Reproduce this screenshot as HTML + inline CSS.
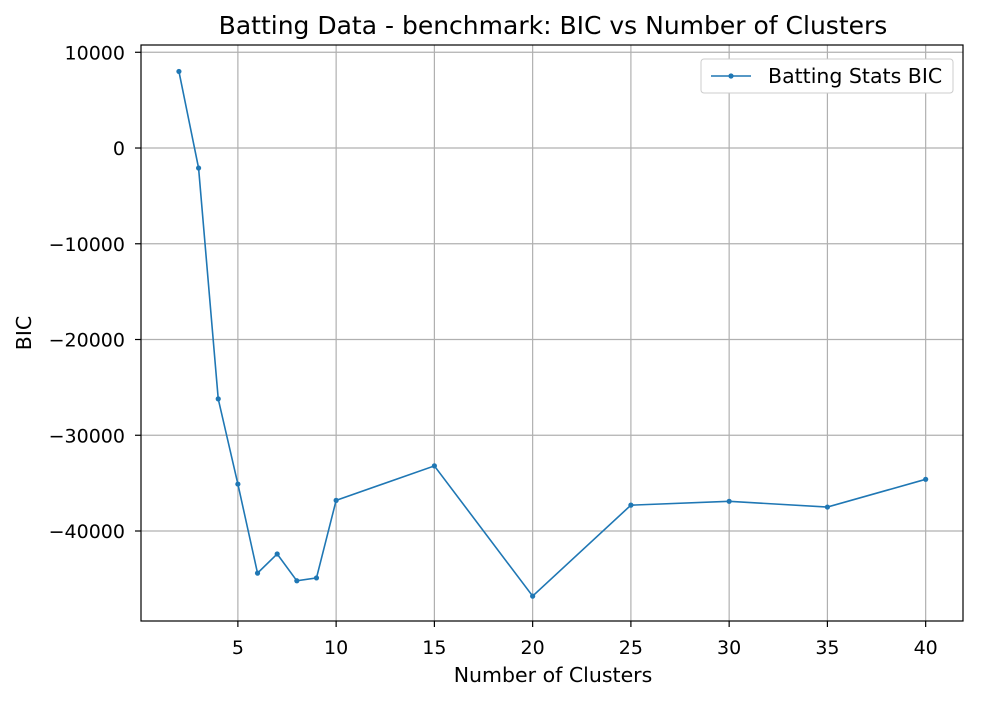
<!DOCTYPE html>
<html><head><meta charset="utf-8"><style>
body{margin:0;background:#fff;font-family:"Liberation Sans","DejaVu Sans",sans-serif;}
text{font-family:"DejaVu Sans","Liberation Sans",sans-serif;}
</style></head><body>
<svg id="chart" width="981" height="700" xmlns="http://www.w3.org/2000/svg"></svg>
<script>
const clusters=[2,3,4,5,6,7,8,9,10,15,20,25,30,35,40];
const bicValues=[8000,-2090,-26200,-35100,-44400,-42400,-45200,-44900,-36800,-33200,-46800,-37300,-36900,-37500,-34600];
const xTicks=[5,10,15,20,25,30,35,40];
const yTicks=[10000,0,-10000,-20000,-30000,-40000];
const L=141,R=963,T=45,B=621;
const xMin=0.07,xMax=41.9,yMin=-49400,yMax=10760;
const sx=v=>L+(v-xMin)/(xMax-xMin)*(R-L);
const sy=v=>B-(v-yMin)/(yMax-yMin)*(B-T);
const svg=document.getElementById('chart');
const NS='http://www.w3.org/2000/svg';
function mk(tag,attrs,txt){const e=document.createElementNS(NS,tag);for(const k in attrs)e.setAttribute(k,attrs[k]);if(txt!=null)e.textContent=txt;svg.appendChild(e);return e;}
xTicks.forEach(v=>{const x=sx(v);
 let g=mk('line',{x1:x,x2:x,y1:T,y2:B,stroke:'#b0b0b0','stroke-width':1.2});
 
 
 mk('line',{x1:x,x2:x,y1:B,y2:B+6,stroke:'#000','stroke-width':1.2});
 let t=mk('text',{x:x,y:B+33,'text-anchor':'middle','font-size':19},String(v));
 
 
});
yTicks.forEach(v=>{const y=sy(v);
 let g=mk('line',{x1:L,x2:R,y1:y,y2:y,stroke:'#b0b0b0','stroke-width':1.2});
 
 
 mk('line',{x1:L-6,x2:L,y1:y,y2:y,stroke:'#000','stroke-width':1.2});
 let t=mk('text',{x:L-16,y:y+7,'text-anchor':'end','font-size':19},String(v).replace('-','\u2212'));
 
 
});
let fr=mk('rect',{x:L,y:T,width:R-L,height:B-T,fill:'none',stroke:'#000','stroke-width':1.2});


let pts=clusters.map((c,i)=>sx(c)+','+sy(bicValues[i])).join(' ');
let pl=mk('polyline',{points:pts,fill:'none',stroke:'#1f77b4','stroke-width':1.6});


clusters.forEach((c,i)=>{let p=mk('circle',{cx:sx(c),cy:sy(bicValues[i]),r:2.6,fill:'#1f77b4'});
 
 
});
let ti=mk('text',{x:(L+R)/2+1,y:34,'text-anchor':'middle','font-size':25},'Batting Data - benchmark: BIC vs Number of Clusters');


let xl=mk('text',{x:(L+R)/2+1,y:682,'text-anchor':'middle','font-size':20.5},'Number of Clusters');


let yl=mk('text',{x:31,y:(T+B)/2,'text-anchor':'middle','font-size':20.5,transform:'rotate(-90 31 '+((T+B)/2)+')'},'BIC');


let lb=mk('rect',{x:701,y:59,width:252,height:34,rx:3,fill:'#fff',stroke:'#ccc'});


mk('line',{x1:711,x2:751,y1:76,y2:76,stroke:'#1f77b4','stroke-width':1.6});
mk('circle',{cx:731,cy:76,r:2.6,fill:'#1f77b4'});
let lt=mk('text',{x:768,y:83,'font-size':20.5},'Batting Stats BIC');


</script>
</body></html>
